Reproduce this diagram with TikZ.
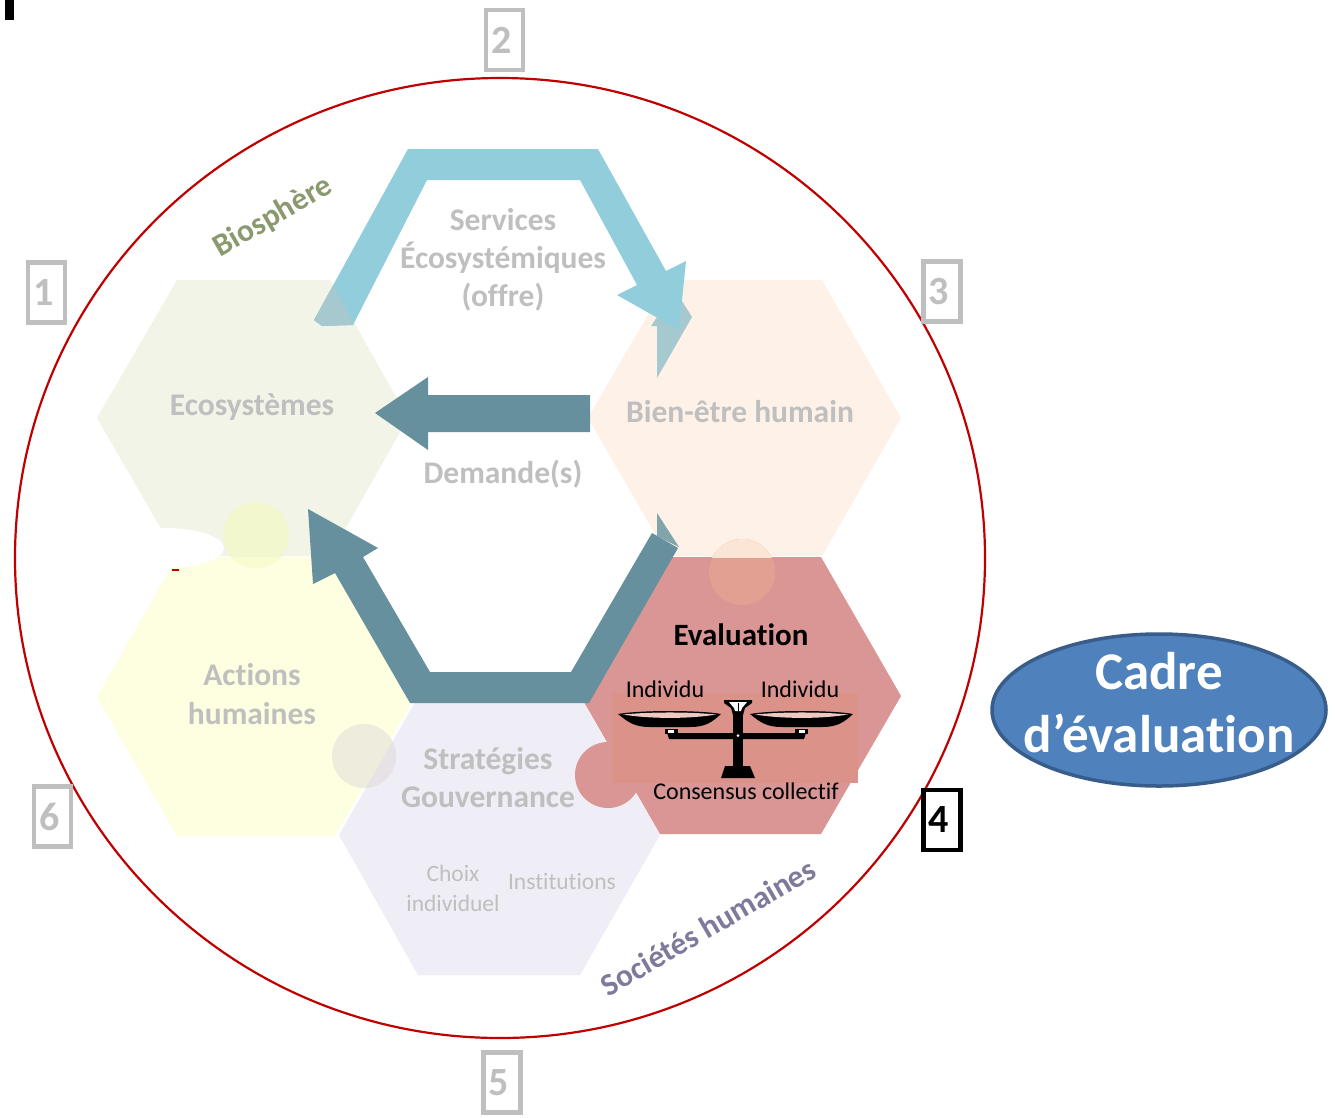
\documentclass[tikz,border=0pt]{standalone}
\usepackage{fontspec}
\setmainfont[Ligatures=NoCommon]{Carlito}
\definecolor{bluea}{HTML}{92CDDC}
\definecolor{teala}{HTML}{67909E}
\definecolor{palea}{HTML}{A5C9CF}
\definecolor{palet}{HTML}{82A5AC}
\definecolor{boxgray}{HTML}{BFBFBF}
\definecolor{txtgray}{HTML}{BFBFBF}
\definecolor{hexeco}{HTML}{F1F4E7}
\definecolor{hexwell}{HTML}{FEF1E8}
\definecolor{hexeval}{HTML}{D99694}
\definecolor{hexact}{HTML}{FEFFE0}
\definecolor{hexstrat}{HTML}{EFEDF5}
\definecolor{redline}{HTML}{C00000}
\definecolor{bio}{HTML}{8A9A6E}
\definecolor{soc}{HTML}{7F7A9C}
\definecolor{capfill}{HTML}{4F81BD}
\definecolor{capline}{HTML}{385D8A}
\definecolor{circa}{HTML}{F3F7CE}
\definecolor{circatwo}{HTML}{F9FBD0}
\definecolor{circb}{HTML}{E2A093}
\definecolor{circbtwo}{HTML}{FBE5D5}
\definecolor{circc}{HTML}{EEECDD}
\definecolor{circctwo}{HTML}{E6E2E6}
\definecolor{rectb}{HTML}{DB9289}
\tikzset{
  numbox/.style={draw=boxgray,line width=4.2pt,fill=white,minimum width=37pt,minimum height=60pt,inner sep=0pt,font=\bfseries\fontsize{40}{40}\selectfont,text=boxgray},
  graybig/.style={text=txtgray,font=\bfseries\fontsize{31.5}{38}\selectfont,align=center,inner sep=0pt},
  graysmall/.style={text=txtgray,font=\fontsize{23.5}{30}\selectfont,align=center,inner sep=0pt},
  blacksmall/.style={text=black,font=\fontsize{24}{28}\selectfont,inner sep=0pt},
}
\begin{document}
\begin{tikzpicture}[x=1pt,y=-1pt]
\useasboundingbox (0,0) rectangle (1335,1117);
\fill[white] (0,0) rectangle (1335,1117);
% outer ring
\draw[redline,line width=2.2pt] (500,558) ellipse [x radius=485,y radius=480];
% hexagons
\fill[hexeco] (97,418)--(177,280)--(330,280)--(408,418)--(330,556)--(177,556)--cycle;
\fill[hexwell] (588,418)--(668,280)--(822,280)--(901,418)--(822,556)--(668,556)--cycle;
\fill[hexact] (97,697)--(177,557)--(335,557)--(415,697)--(335,836)--(177,836)--cycle;
\fill[hexstrat] (339,835)--(418,697)--(580,697)--(660,835)--(580,975)--(418,975)--cycle;
% salmon circle below evaluation
\fill[hexeval] (608,775) circle [radius=33];
\fill[hexeval] (581,697)--(660,557)--(821,557)--(901,696)--(821,834)--(660,834)--cycle;
% linking circles
\fill[circa] (256,535) circle [radius=33];
\begin{scope}
\clip (97,557) rectangle (415,600);
\fill[circatwo] (256,535) circle [radius=33];
\end{scope}
\fill[circb] (742,572) circle [radius=33];
\begin{scope}
\clip (600,500) rectangle (880,557);
\fill[circbtwo] (742,572) circle [radius=33];
\end{scope}
\fill[circc] (364,756) circle [radius=32];
\begin{scope}
\clip (339,835)--(418,697)--(580,697)--(660,835)--(580,975)--(418,975)--cycle;
\fill[circctwo] (364,756) circle [radius=32];
\end{scope}
% white ellipse and red speck
\fill[redline] (172,568.5) rectangle (179,570.5);
\fill[white] (165,548) ellipse [x radius=59,y radius=20];
% pale upper-arrow remainders
\fill[palea] (657,378)--(692,317)--(675,290)--(651,326)--(657,326)--cycle;
\fill[palet] (657,513)--(679,547)--(657,536)--cycle;
% blue arrow
\fill[bluea] (314,320)--(408,149)--(598,149)--(666,271)--(686,261)--(679,330)--(617,295)--(637,285)--(580,180)--(427,180)--(353,325)--(322,326)--cycle;
\begin{scope}
\clip (97,418)--(177,280)--(330,280)--(408,418)--(330,556)--(177,556)--cycle;
\fill[palea] (314,320)--(408,149)--(427,180)--(353,325)--(322,326)--cycle;
\end{scope}
% teal arrows
\fill[teala] (590,395)--(428,395)--(428,377)--(375,413)--(428,450)--(428,432)--(590,432)--cycle;
\fill[teala] (678,548)--(652,533)--(571,672)--(430,672)--(363,557)--(378,548)--(308,509)--(313,584)--(335,573)--(410,703)--(589,703)--cycle;
% scale background
\fill[rectb] (612,693) rectangle (858,783);
% scale
\fill[black] (618,714) .. controls (640,710) and (700,710) .. (721,714) .. controls (712,722) and (706,727) .. (690,727) -- (650,727) .. controls (634,727) and (628,722) .. (618,714) -- cycle;
\fill[rectb!50!white] (623,714.5) .. controls (650,711.8) and (690,711.8) .. (716,714.5) .. controls (690,719) and (650,719) .. (623,714.5) -- cycle;
\fill[black] (750,714) .. controls (772,710) and (832,710) .. (853,714) .. controls (844,722) and (838,727) .. (822,727) -- (782,727) .. controls (766,727) and (760,722) .. (750,714) -- cycle;
\fill[rectb!50!white] (755,714.5) .. controls (782,711.8) and (822,711.8) .. (848,714.5) .. controls (822,719) and (782,719) .. (755,714.5) -- cycle;
\fill[black] (667,733) -- (806,733) -- (804,739) -- (669,739) -- cycle;
\fill[black] (665,729) rectangle (678,734);
\fill[black] (795,729) rectangle (808,734);
\fill[white] (668,729.5) rectangle (674,733);
\fill[white] (799,729.5) rectangle (805,733);
\fill[black] (733,714) rectangle (743,767);
\fill[black] (724,700) -- (752,700) -- (752,703) -- (745,708) -- (743,715) -- (733,715) -- (731,708) -- (724,703) -- cycle;
\fill[white] (729,702) -- (747,702) -- (742,708) -- (741,711) -- (735,711) -- (734,708) -- cycle;
\fill[black] (737.5,703) rectangle (738.5,711);
\fill[white] (738,735.5) circle [radius=1.5];
\fill[black] (725,766) -- (750,766) -- (755,778) -- (721,778) -- cycle;
% text
\node[graybig] (servtxt) at (503,260) {Services\\Écosystémiques\\(offre)};
\node[graybig] (ecotxt) at (252,407) {Ecosystèmes};
\node[graybig] (bientxt) at (740,412) {Bien-être humain};
\node[graybig] (demtxt) at (503,474) {Demande(s)};
\node[graybig,font=\bfseries\fontsize{31.5}{39.5}\selectfont] (acttxt) at (252,694) {Actions\\humaines};
\node[graybig] (strattxt) at (488,778) {Stratégies\\Gouvernance};
\node[graysmall] (choixtxt) at (453,888) {Choix\\individuel};
\node[graysmall] (insttxt) at (562,881) {Institutions};
\node[text=black,font=\bfseries\fontsize{31}{36}\selectfont,inner sep=0pt] (evaltxt) at (741,635) {Evaluation};
\node[blacksmall] (ind1) at (665,689) {Individu};
\node[blacksmall] (ind2) at (800,689) {Individu};
\node[blacksmall] (cons) at (746,791) {Consensus collectif};
\node[rotate=30,text=bio,font=\bfseries\fontsize{31.5}{36}\selectfont,inner sep=0pt] (biotxt) at (273,217) {Biosphère};
\node[rotate=30,text=soc,font=\bfseries\fontsize{31.5}{36}\selectfont,inner sep=0pt] (soctxt) at (708,927) {Sociétés humaines};
% numbered boxes
\node[numbox] (n1) at (46.5,292.5) {\kern-6pt 1};
\node[numbox] (n2) at (504.5,40) {\kern-6pt 2};
\node[numbox] (n3) at (942,291.5) {\kern-6pt 3};
\node[numbox,draw=black,text=black] (n4) at (942,820) {\kern-6pt 4};
\node[numbox] (n5) at (502,1082.5) {\kern-6pt 5};
\node[numbox] (n6) at (52.5,816.5) {\kern-6pt 6};
% corner mark
\fill[black] (5,0) rectangle (14,20);
% side ellipse
\draw[fill=capfill,draw=capline,line width=3.5pt] (1159,710) ellipse [x radius=167,y radius=76];
\node[text=white,font=\bfseries\fontsize{53}{63}\selectfont,align=center,inner sep=0pt] (cadre) at (1159,703) {Cadre\\d’évaluation};
\end{tikzpicture}
\end{document}
